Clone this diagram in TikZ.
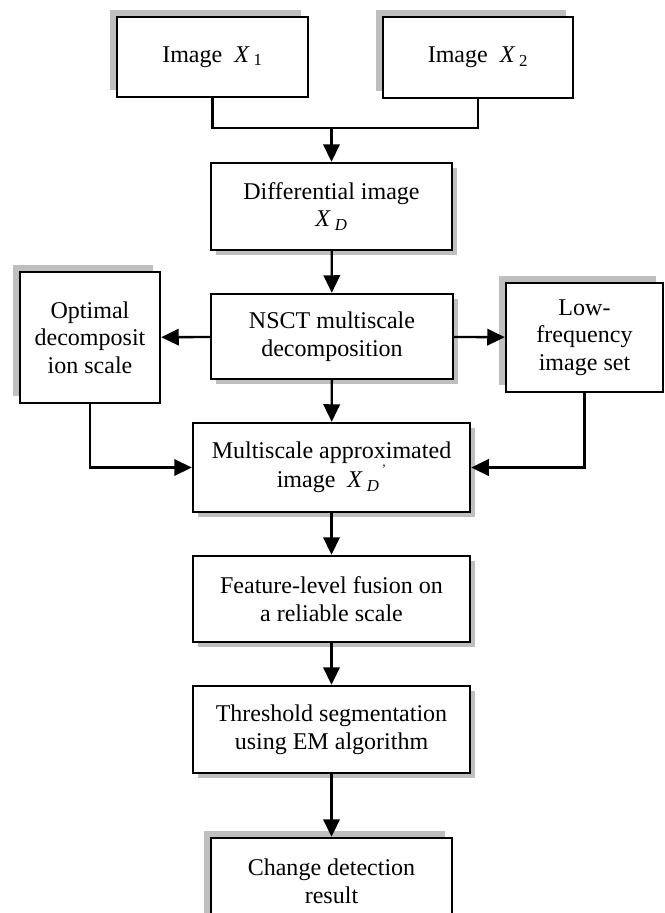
\documentclass[tikz,border=0pt]{standalone}
\usepackage{fontspec}
\setmainfont{Liberation Serif}
\usepackage{tikz}
\usetikzlibrary{arrows.meta,shadows}
\tikzset{
>={Triangle[length=15pt,width=14pt]},
main box/.style={draw,fill=white,line width=2pt,align=center,inner sep=2pt},
ombra su/.style={main box,drop shadow={shadow xshift=-0.21cm,shadow yshift=0.21cm,fill=gray!50,opacity=1}},
ombra giu/.style={main box,drop shadow={shadow xshift=0.15cm,shadow yshift=-0.15cm,fill=gray!50,opacity=1}},
freccia/.style={->,line width=2pt},
linea/.style={line width=2pt}}
\newcommand{\imgX}{\textit{X}\,}
\newcommand{\primo}{\kern2pt\raisebox{0.6em}{\fontsize{11}{11}\selectfont '}}

\begin{document}
\begin{tikzpicture}[x=0.03cm,y=-0.03cm,font=\fontsize{20.5}{23.5}\selectfont]
\clip (0,0) rectangle (665,913);

\node[ombra su,minimum width=5.73cm,minimum height=2.4cm] (x1) at (212.5,57) {Image\ \ \imgX\textsubscript{1}};
\node[ombra su,minimum width=5.7cm,minimum height=2.43cm] (x2) at (478,57.5) {Image\ \ \imgX\textsubscript{2}};
\coordinate (join) at (331.5,128);

\node[ombra giu,minimum width=7.23cm,minimum height=2.61cm] (diff) at (331.5,206.5) {Differential image\\ \imgX\textsubscript{\textit{D}}};
\node[ombra giu,minimum width=7.26cm,minimum height=2.55cm] (nsct) at (332,336.5) {NSCT multiscale\\ decomposition};
\node[ombra su,minimum width=4.2cm,minimum height=3.93cm] (opt) at (90,337.5) {Optimal\\ decomposit\\ ion scale};
\node[ombra su,minimum width=4.71cm,minimum height=3.27cm] (low) at (584.5,337.5) {Low-\\ frequency\\ image set};

\node[ombra giu,minimum width=8.31cm,minimum height=2.67cm] (multi) at (331.5,467.5) {Multiscale approximated\\ image\ \ \imgX\textsubscript{\textit{D}}\primo};
\node[ombra giu,minimum width=8.31cm,minimum height=2.58cm] (feat) at (331.5,599) {Feature-level fusion on\\ a reliable scale};
\node[ombra giu,minimum width=8.31cm,minimum height=2.61cm] (thres) at (331.5,729.5) {Threshold segmentation\\ using EM algorithm};
\node[ombra su,minimum width=7.23cm,minimum height=2.61cm] (change) at (331.5,881.5) {Change detection\\ result};

\draw[linea] (x1) |- (join);
\draw[linea] (x2) |- (join);
\draw[freccia] (join) -- (diff);
\draw[freccia] (diff) -- (nsct);
\draw[freccia] (nsct) -- (opt);
\draw[freccia] (nsct) -- (low);
\draw[freccia] (nsct) -- (multi);
\draw[freccia] (opt) |- (multi);
\draw[freccia] (low) |- (multi);
\draw[freccia] (multi) -- (feat);
\draw[freccia] (feat) -- (thres);
\draw[freccia] (thres) -- (change);
\end{tikzpicture}
\end{document}
